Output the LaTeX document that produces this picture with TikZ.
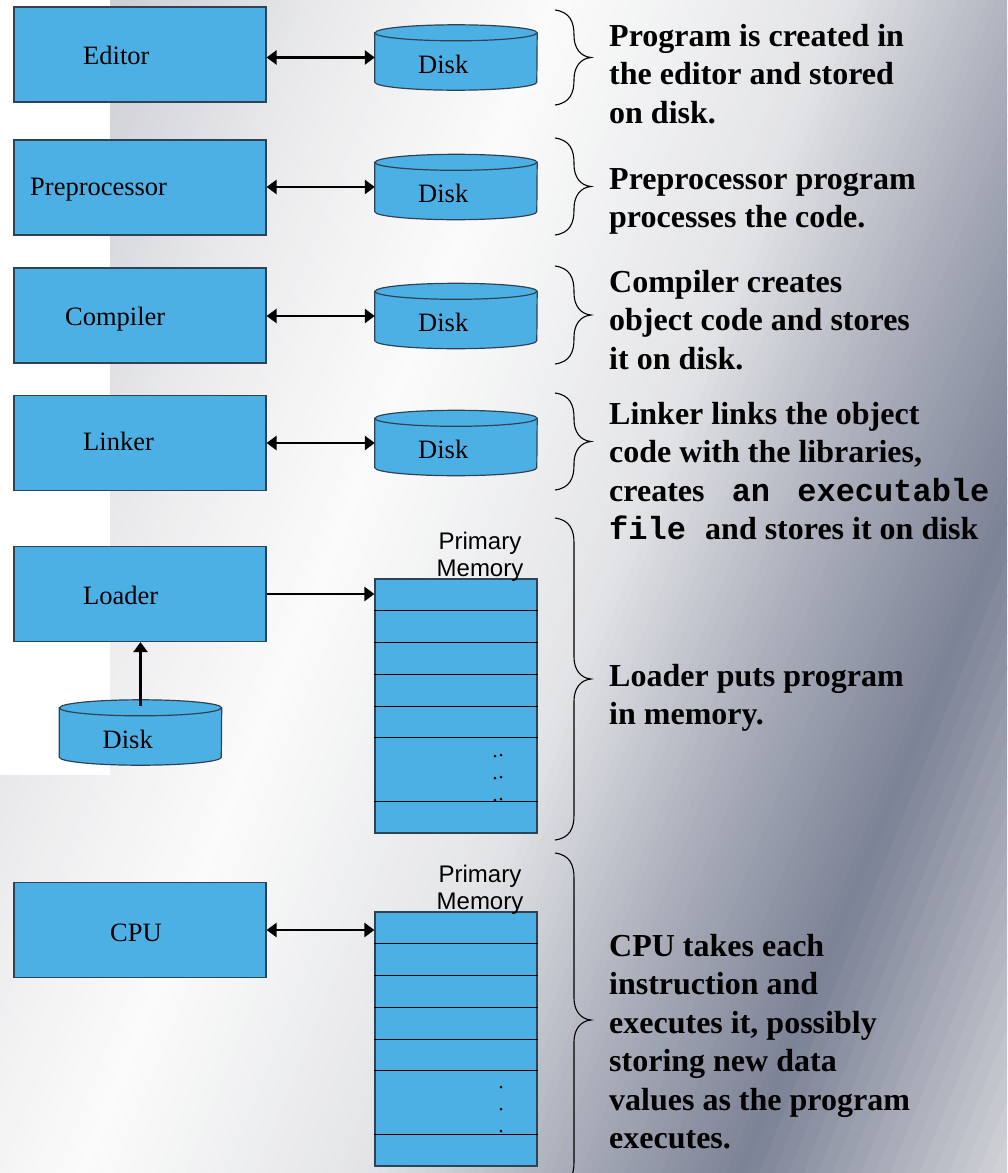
\documentclass[tikz,border=0pt]{standalone}
\usepackage{fontspec}
\setmainfont{Liberation Serif}
\setsansfont{Liberation Sans}
\setmonofont{Liberation Mono}
\usetikzlibrary{arrows.meta}

\definecolor{boxblue}{HTML}{4DB0E4}
\definecolor{boxline}{HTML}{2E4455}
% background stops
\definecolor{bgA}{HTML}{C2C3C9}
\definecolor{bgB}{HTML}{CFD0D5}
\definecolor{bgC}{HTML}{EBEBED}
\definecolor{bgD}{HTML}{FBFBFB}
\definecolor{bgE}{HTML}{E3E4E7}
\definecolor{bgF}{HTML}{AAAEBA}
\definecolor{bgG}{HTML}{7C8296}
\definecolor{bgH}{HTML}{DBDCDF}

\tikzset{
  procbox/.style={draw=boxline, fill=boxblue, line width=1.2pt, minimum width=252pt, minimum height=95pt, inner sep=0pt},
  diskarea/.style={minimum width=162pt, minimum height=65pt, inner sep=0pt},
  diskbody/.style={draw=boxline, fill=boxblue, line width=1.2pt},
  memblock/.style={draw=boxline, fill=boxblue, line width=1.2pt, minimum width=162pt, minimum height=254pt, inner sep=0pt},
  boxtext/.style={font=\fontsize{26.5}{30}\selectfont, inner sep=0pt, anchor=base west},
  memlabel/.style={font=\sffamily\fontsize{24}{27}\selectfont, align=center, inner sep=0pt, anchor=south},
  note/.style={font=\bfseries\fontsize{32}{38.5}\selectfont, align=left, inner sep=0pt, anchor=north west},
  twoway/.style={{Triangle[length=10pt,width=14pt]}-{Triangle[length=10pt,width=14pt]}, line width=2.9pt},
  oneway/.style={-{Triangle[length=10pt,width=14pt]}, line width=2.9pt},
  rowline/.style={line width=1.5pt},
  bracepath/.style={line width=1.1pt}
}

\begin{document}
\begin{tikzpicture}[x=1pt,y=-1pt]
\useasboundingbox (0,0) rectangle (1007,1173);

% background
\begin{scope}
  \clip (0,0) rectangle (1007,1173);
  \begin{scope}[rotate=-22]
    \foreach \pa/\pb/\ca/\cb in {-50/120/bgA/bgB, 120/320/bgB/bgC, 320/520/bgC/bgD, 520/780/bgD/bgE, 780/960/bgE/bgF, 960/1130/bgF/bgG, 1130/1400/bgG/bgH}{
      \foreach \k in {0,...,19}{
        \pgfmathsetmacro{\lo}{\pa+(\pb-\pa)*\k/20}
        \pgfmathsetmacro{\hi}{\pa+(\pb-\pa)*(\k+1)/20+0.8}
        \pgfmathtruncatemacro{\pct}{100-(\k+0.5)*5}
        \fill[\ca!\pct!\cb] (\lo,-1500) rectangle (\hi,1500);
      }
    }
  \end{scope}
  \fill[white] (0,0) rectangle (110,775);
\end{scope}

% stages
\node[procbox] (editor) at (140,54.5) {};
\node[procbox] (prep) at (140,187.5) {};
\node[procbox] (comp) at (140,315.5) {};
\node[procbox] (linker) at (140,443) {};
\node[procbox] (loader) at (140,594) {};
\node[procbox] (cpu) at (140,930) {};

\node[boxtext] (editortxt) at (83,64) {Editor};
\node[boxtext] (preptxt) at (30,195) {Preprocessor};
\node[boxtext] (comptxt) at (65,325) {Compiler};
\node[boxtext] (linkertxt) at (83,450) {Linker};
\node[boxtext] (loadertxt) at (83,604) {Loader};
\node[boxtext] (cputxt) at (110,941) {CPU};

% disks
\node[diskarea] (disk1) at (456,57.5) {};
\node[diskarea] (disk2) at (456,187) {};
\node[diskarea] (disk3) at (456,316) {};
\node[diskarea] (disk4) at (456,443) {};
\node[diskarea] (ldisk) at (140.5,732.5) {};
\foreach \d in {disk1,disk2,disk3,disk4,ldisk}{
  \filldraw[diskbody] ([yshift=-8pt]\d.north west) -- ([yshift=8pt]\d.south west)
    arc[start angle=180, end angle=360, x radius=81pt, y radius=8pt]
    -- ([yshift=-8pt]\d.north east)
    arc[start angle=0, end angle=180, x radius=81pt, y radius=8pt] -- cycle;
  \draw[diskbody, fill=none] ([yshift=-8pt]\d.north west)
    arc[start angle=180, end angle=360, x radius=81pt, y radius=8pt];
  \node[boxtext] (\d txt) at ([xshift=-38pt,yshift=-15.5pt]\d.center) {Disk};
}

% memory
\node[memblock] (mem1) at (456,706) {};
\node[memblock] (mem2) at (456,1039) {};
\foreach \m in {mem1,mem2}
  \foreach \dy in {32,64,96,128,159,223}
    \draw[rowline] ([yshift=-\dy pt]\m.north west) -- ([yshift=-\dy pt]\m.north east);
\foreach \y in {756,778,800}{
  \fill (495,\y) circle (1.5);
  \fill (501,\y-1) circle (1.5);
}
\foreach \y in {1087,1109,1131}
  \fill (501,\y) circle (1.5);
\node[memlabel] (mem1lbl) at ([xshift=24pt,yshift=-3pt]mem1.north) {Primary\\Memory};
\node[memlabel] (mem2lbl) at ([xshift=24pt,yshift=-3pt]mem2.north) {Primary\\Memory};

% connectors
\draw[twoway] (editor.east |- disk1.west) -- (disk1.west);
\draw[twoway] (prep.east |- disk2.west) -- (disk2.west);
\draw[twoway] (comp.east |- disk3.west) -- (disk3.west);
\draw[twoway] (linker.east |- disk4.west) -- (disk4.west);
\draw[oneway] (loader.east) -- (loader.east -| mem1.west);
\draw[oneway] ([yshift=-6pt]ldisk.north) -- (ldisk.north |- loader.south);
\draw[twoway] (cpu.east) -- (cpu.east -| mem2.west);

% braces
\foreach \ya/\yb in {10/105, 138/235, 266/364, 393/490, 518/840, 853/1187}{
  \pgfmathsetmacro{\ym}{(\ya+\yb)/2}
  \draw[bracepath] (555,\ya) .. controls (570,\ya+2) and (574,\ya+12) .. (574,\ya+25)
    -- (574,\ym-22) .. controls (574,\ym-10) and (580,\ym-1) .. (591,\ym)
    .. controls (580,\ym+1) and (574,\ym+10) .. (574,\ym+22)
    -- (574,\yb-25) .. controls (574,\yb-12) and (570,\yb-2) .. (555,\yb);
}

% notes
\node[note] (note1) at (609,24) {Program is created in\\the editor and stored\\on disk.};
\node[note] (note2) at (609,168) {Preprocessor program\\processes the code.};
\node[note] (note3) at (609,270) {Compiler creates\\object code and stores\\it on disk.};
\node[note] (note4) at (609,402) {Linker links the object\\code with the libraries,\\creates \texttt{\ an}\ \texttt{\ executable}\\\texttt{file\ }and stores it on disk};
\node[note] (note5) at (609,664) {Loader puts program\\in memory.};
\node[note] (note6) at (609,934) {CPU takes each\\instruction and\\executes it, possibly\\storing new data\\values as the program\\executes.};
\end{tikzpicture}
\end{document}
